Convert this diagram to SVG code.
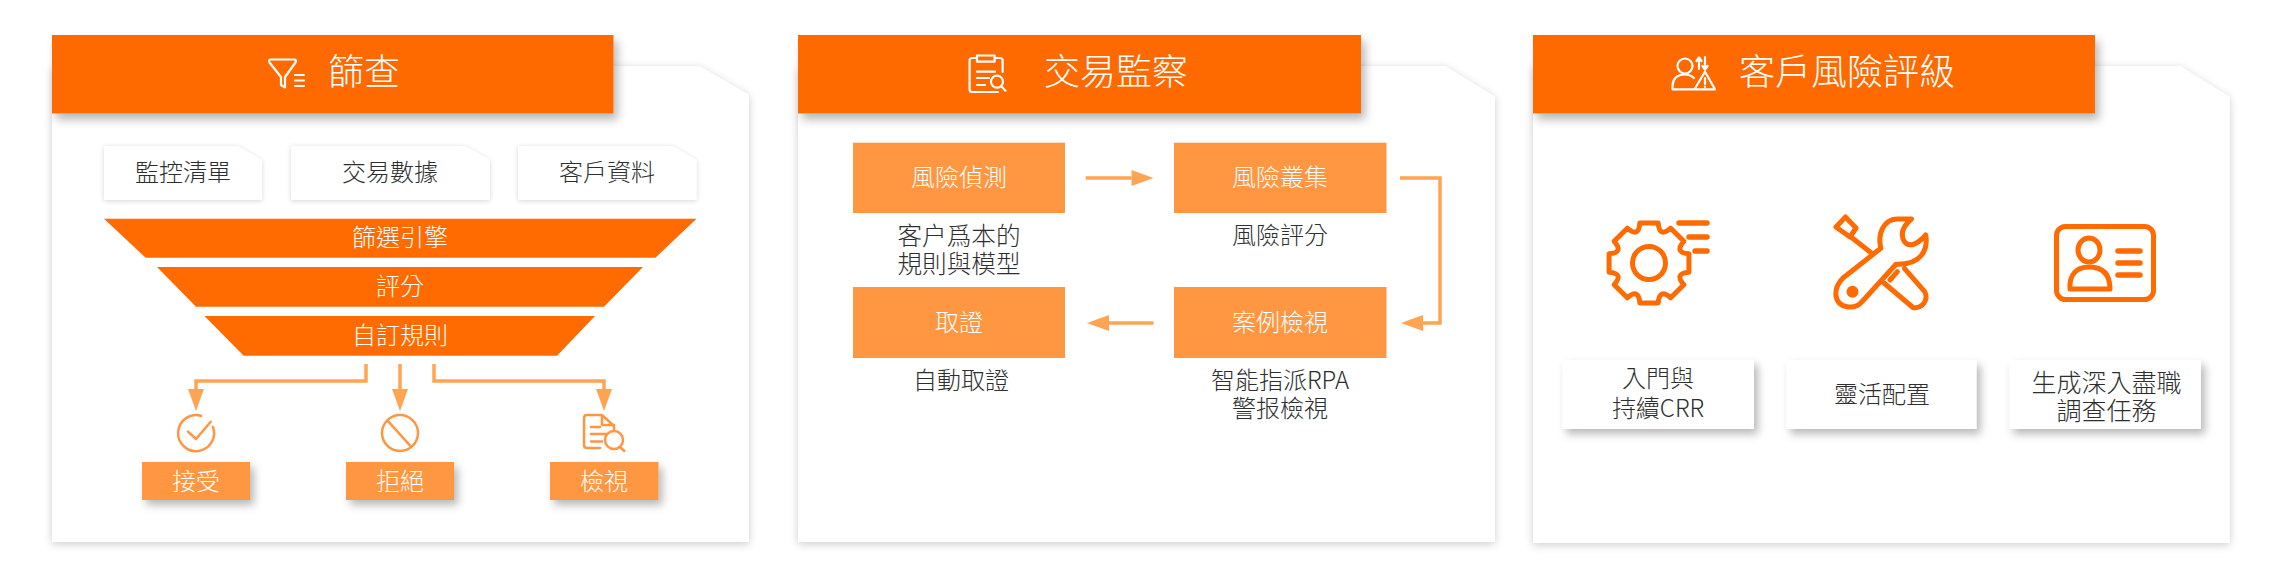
<svg xmlns="http://www.w3.org/2000/svg" width="2282" height="578" viewBox="0 0 2282 578">
<style>
text{font-family:"Noto Sans CJK TC","Noto Sans CJK SC",sans-serif;text-anchor:middle;font-size:24px;font-weight:300;fill:#2e2e2e}
.w{fill:#fff}
.t{fill:#fff;font-size:36px}
.hd{fill:#ff6b00;filter:url(#sh)}
.panel{fill:#fff;filter:url(#ps)}
.chip{fill:#fff;filter:url(#cs)}
.chip2{fill:#fff;filter:url(#sh2)}
.fun{fill:#ff6b00}
.lt{fill:#ff9642}
.lts{fill:#ff9642;filter:url(#sh2)}
.conn{fill:none;stroke:#ffa552;stroke-width:3.5;marker-end:url(#ah)}
.ic{fill:none;stroke:#ff9642;stroke-width:2.5;stroke-linecap:round;stroke-linejoin:round}
.iw{fill:none;stroke:#fff;stroke-width:2.2;stroke-linecap:round;stroke-linejoin:round}
.io{fill:none;stroke:#ff6b00;stroke-width:5;stroke-linecap:round;stroke-linejoin:round}
</style>
<defs>
<filter id="sh" x="-5%" y="-10%" width="112%" height="130%"><feDropShadow dx="4" dy="6" stdDeviation="5" flood-color="#000" flood-opacity=".28"/></filter>
<filter id="sh2" x="-15%" y="-20%" width="130%" height="160%"><feDropShadow dx="4" dy="5" stdDeviation="4" flood-color="#000" flood-opacity=".28"/></filter>
<filter id="ps" x="-5%" y="-5%" width="110%" height="110%"><feDropShadow dx="0" dy="2" stdDeviation="4" flood-color="#000" flood-opacity=".2"/></filter>
<filter id="cs" x="-10%" y="-20%" width="120%" height="140%"><feDropShadow dx="0" dy="1" stdDeviation="2.5" flood-color="#000" flood-opacity=".16"/></filter>
<marker id="ah" markerUnits="userSpaceOnUse" markerWidth="24" markerHeight="18" refX="0" refY="8" orient="auto" overflow="visible"><path d="M0 0L22 8L0 16Z" fill="#ffa552"/></marker>
</defs>

<g id="panel-screening">
<path class="panel" d="M52 66H699L749 95V542H52Z"/>
<rect class="hd" x="52" y="35" width="561.5" height="78.5"/>
<path class="iw" d="M271 59.5H294q3 0 1.500 3L285 77V87.500L281 85V77L269.500 62.500q-1.500-3 1.500-3Z"/>
<path class="iw" d="M295 75H304M295 80.500H304M295 86H304" stroke-width="2"/>
<text class="t" x="364" y="85">篩查</text>
</g>
<g id="chip-watchlist"><path class="chip" d="M104 146H237.500L262 160V200H104Z"/><text x="183" y="181">監控清單</text></g>
<g id="chip-transaction"><path class="chip" d="M291 146H465L490 160V200H291Z"/><text x="390" y="181">交易數據</text></g>
<g id="chip-customer"><path class="chip" d="M518 146H672L696.500 160V200H518Z"/><text x="607" y="181">客戶資料</text></g>
<g id="funnel-engine"><path class="fun" d="M104 218.700H696.500L655.500 257.700H145.600Z"/><text class="w" x="400" y="246">篩選引擎</text></g>
<g id="funnel-score"><path class="fun" d="M157 267H643L604 306.700H196Z"/><text class="w" x="400" y="295">評分</text></g>
<g id="funnel-rules"><path class="fun" d="M204.500 316H595L557 355.700H243.700Z"/><text class="w" x="400" y="344">自訂規則</text></g>
<g id="out-accept">
<path class="ic" d="M201 415.800A18 18 0 1 0 213 427M188 431.700L196 439L210.700 421.700"/>
<rect class="lts" x="142" y="462" width="108" height="38"/><text class="w" x="196" y="490">接受</text></g>
<g id="out-reject">
<circle class="ic" cx="400" cy="433" r="18"/><path class="ic" d="M388.500 421.700L411 446.700"/>
<rect class="lts" x="346" y="462" width="108" height="38"/><text class="w" x="400" y="490">拒絕</text></g>
<g id="out-review">
<path class="ic" d="M600 448H587Q584 448 584 445V418Q584 415 587 415H602L614 426V431M602 415V425H614M591 427H600M591 434H606M591 441.600H602"/>
<circle class="ic" cx="614" cy="440" r="9"/><path class="ic" d="M620 447L624.300 451"/>
<rect class="lts" x="550" y="462" width="108.500" height="38"/><text class="w" x="604" y="490">檢視</text></g>

<g id="panel-monitoring">
<path class="panel" d="M798 66H1445L1495 97V542H798Z"/>
<rect class="hd" x="798" y="35" width="563" height="78.500"/>
<path class="iw" d="M977 58H972Q969.600 58 969.600 60.500V89.500Q969.600 92 972 92H998M994.600 58H1000Q1002.600 58 1002.600 60.500V72M977 55.500H994.600V61.700H977ZM977 71.700H995M977 78H989M977 85H985"/>
<circle class="iw" cx="997" cy="81.700" r="6"/><path class="iw" d="M1001 86L1005.500 90.700"/>
<text class="t" x="1116" y="85">交易監察</text>
</g>
<g id="box-detect"><rect class="lt" x="853" y="142.700" width="212" height="70.300"/><text class="w" x="959" y="186">風險偵測</text></g>
<text x="959" y="245" style="font-size:24.6px">客户爲本的<tspan x="959" dy="28">規則與模型</tspan></text>
<g id="box-cluster"><rect class="lt" x="1174" y="142.700" width="212.500" height="70.300"/><text class="w" x="1280" y="186">風險叢集</text></g>
<text x="1280" y="244">風險評分</text>
<g id="box-case"><rect class="lt" x="1174" y="287" width="212.500" height="71"/><text class="w" x="1280" y="331">案例檢視</text></g>
<text x="1280" y="389">智能指派RPA<tspan x="1280" dy="28">警报檢視</tspan></text>
<g id="box-evidence"><rect class="lt" x="853" y="287" width="212" height="71"/><text class="w" x="959" y="331">取證</text></g>
<text x="961" y="389">自動取證</text>

<g id="panel-rating">
<path class="panel" d="M1533 66H2180L2229.500 97V543H1533Z"/>
<rect class="hd" x="1533" y="35" width="562" height="78.500"/>
<circle class="iw" cx="1685" cy="66" r="7.500"/>
<path class="iw" d="M1694 89.300H1672.500V86Q1673 74.500 1685 74.500Q1690 74.500 1694 78M1705 71.700L1715 89.300H1694.500ZM1705 78V84M1705 86.500V87M1699 69V58M1696.500 61L1699 57.500L1701.500 61M1705 57V69M1702.500 66L1705 69.500L1707.500 66"/>
<text class="t" x="1847" y="85">客戶風險評級</text>
</g>
<g id="icon-gear" transform="translate(1649 263)">
<path class="io" stroke-linecap="butt" d="M39.900 -9.200L39.900 9.200Q24.900 10.300 34.800 21.700L21.700 34.800Q10.300 24.900 9.200 39.900L-9.200 39.900Q-10.300 24.900 -21.700 34.800L-34.800 21.700Q-24.900 10.300 -39.900 9.200L-39.900 -9.200Q-24.900 -10.300 -34.800 -21.700L-21.700 -34.800Q-10.300 -24.900 -9.200 -39.900L9.200 -39.900Q10.300 -24.900 21.700 -34.800L34.800 -21.700Q24.900 -10.300 39.900 -9.200Z"/>
<circle class="io" r="16.500"/>
<path d="M30 -40H58M40 -26H58M46 -12H58" stroke="#ff6b00" stroke-width="5.500" stroke-linecap="round" fill="none"/>
</g>
<g id="icon-tools">
<path class="io" d="M1880.800 248.300C1877 232 1885 219 1897.400 219H1911.500C1903 226 1900 234 1904.400 241.700C1908 247 1916 246 1925.700 235C1928 248 1923 265 1896 264.300L1862 301.700C1855 310 1838 309 1836 296C1835 288 1838 283 1843 278Z"/>
<circle cx="1852.500" cy="291.700" r="6" fill="#ff6b00"/>
<path class="io" stroke-width="4.500" d="M1845.500 217L1856 228L1850 237L1836 227ZM1851 237L1871.400 253"/>
<path class="io" d="M1904.400 268.300L1924.700 291.700C1929 300 1922 309 1913 307.500L1884 283M1897.400 271.700L1890 280"/>
</g>
<g id="icon-card">
<rect class="io" x="2056.500" y="226.500" width="97" height="73" rx="9"/>
<ellipse class="io" cx="2089" cy="250" rx="11" ry="12"/>
<path class="io" d="M2070 289H2110C2110 273 2102 267 2089 267C2077 267 2069 274 2070 289Z"/>
<path d="M2118 251H2140M2118 263H2140M2118 275H2140" stroke="#ff6b00" stroke-width="5.500" stroke-linecap="round" fill="none"/>
</g>
<g id="chip-crr"><rect class="chip2" x="1562.500" y="360" width="191.500" height="69"/><text x="1658" y="387">入門與<tspan x="1658" dy="30">持續CRR</tspan></text></g>
<g id="chip-flex"><rect class="chip2" x="1786.500" y="360" width="190" height="69"/><text x="1882" y="403">靈活配置</text></g>
<g id="chip-task"><rect class="chip2" x="2009.500" y="360" width="191.500" height="69"/><text x="2106.500" y="392" style="font-size:25px">生成深入盡職<tspan x="2106.500" dy="28">調查任務</tspan></text></g>

<g id="connectors">
<path class="conn" d="M366 364V381H196V389"/>
<path class="conn" d="M400 364V389"/>
<path class="conn" d="M434 364V381H604V389"/>
<path class="conn" d="M1085.700 178H1131.500"/>
<path class="conn" d="M1400 178H1440V323H1423"/>
<path class="conn" d="M1153.600 323H1109"/>
</g>
</svg>
